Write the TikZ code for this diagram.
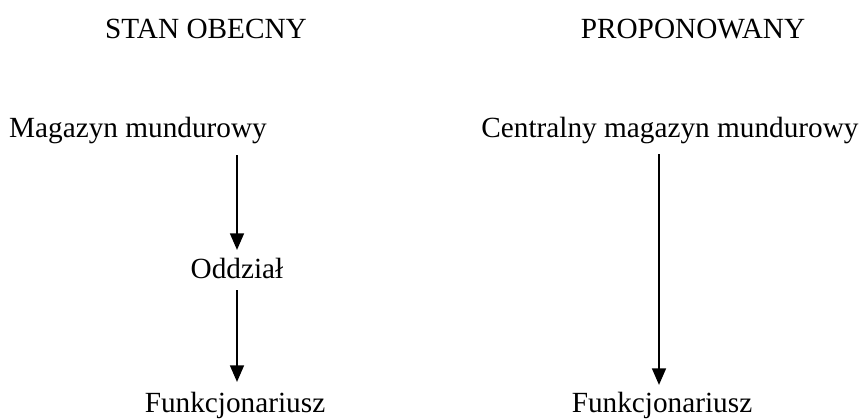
\documentclass[tikz,border=0pt]{standalone}
\usepackage{fontspec}
\setmainfont{Liberation Serif}
\usetikzlibrary{arrows.meta}
\tikzset{
  lbl/.style={inner sep=0pt, anchor=base, font=\fontsize{12}{14}\selectfont},
  flow/.style={line width=1pt, -{Triangle[length=6.8pt,width=5.6pt]}}
}
\begin{document}
\begin{tikzpicture}[x=0.41pt,y=-0.41pt]
  \useasboundingbox (0,0) rectangle (861,419);
  % column headings
  \node[lbl] (h1) at (206,38) {STAN OBECNY};
  \node[lbl] (h2) at (693,38) {PROPONOWANY};
  % current flow
  \node[lbl] (mag) at (138,137) {Magazyn mundurowy};
  \node[lbl] (odd) at (237,278) {Oddział};
  \node[lbl] (fun1) at (235,412) {Funkcjonariusz};
  % proposed flow
  \node[lbl] (cmag) at (670,137) {Centralny magazyn mundurowy};
  \node[lbl] (fun2) at (662,412) {Funkcjonariusz};
  % connectors
  \coordinate (a1s) at (237,155); \coordinate (a1e) at (237,250);
  \coordinate (a2s) at (237,290); \coordinate (a2e) at (237,382);
  \coordinate (a3s) at (659,154); \coordinate (a3e) at (659,385);
  \draw[flow] (a1s) -- (a1e);
  \draw[flow] (a2s) -- (a2e);
  \draw[flow] (a3s) -- (a3e);
\end{tikzpicture}
\end{document}
